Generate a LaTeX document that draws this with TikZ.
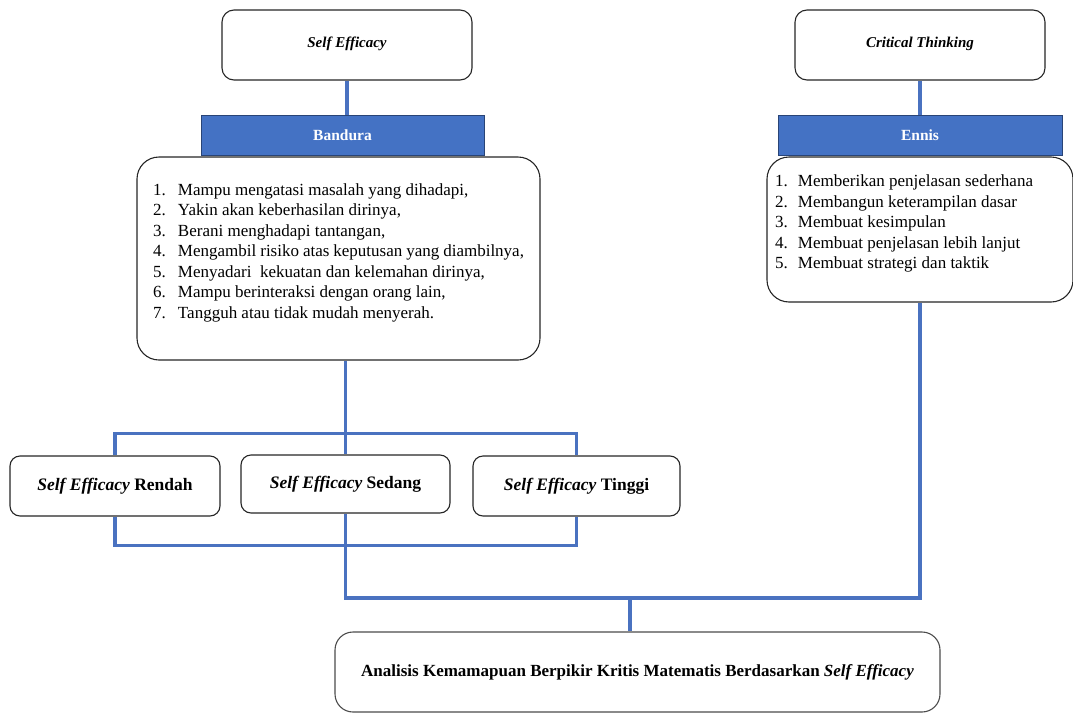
\documentclass[tikz,border=0pt]{standalone}
\usepackage{fontspec}
\setmainfont{Liberation Serif}
\definecolor{hblue}{HTML}{4472C4}
\definecolor{lblue}{HTML}{4A72C0}
\begin{document}
\begin{tikzpicture}[x=1pt,y=-1pt,
  rbox/.style={draw=black!85, line width=1.1pt, rounded corners=12pt, fill=white, inner sep=0pt},
  bigbox/.style={rbox, rounded corners=22pt},
  hdr/.style={fill=hblue, draw=hblue!60!black, line width=0.8pt, text=white, inner sep=0pt,
    font=\fontsize{15.5}{17}\selectfont\bfseries},
  ttl/.style={font=\fontsize{15}{17}\selectfont\bfseries\itshape, text height=12pt, text depth=8pt},
  lvl/.style={rbox, rounded corners=10pt, font=\fontsize{17.5}{20}\selectfont\bfseries},
  conn/.style={draw=lblue, line width=3.5pt},
  lst/.style={font=\fontsize{17}{20.5}\selectfont}
]
\useasboundingbox (0,0) rectangle (1073,715);

% top boxes
\node[rbox, ttl, minimum width=250pt, minimum height=70pt] (se) at (347,45) {Self Efficacy};
\node[rbox, ttl, minimum width=250pt, minimum height=70pt] (ct) at (920,45) {Critical Thinking};

% headers
\node[hdr, minimum width=283pt, minimum height=40pt] (band) at (342.5,135) {Bandura};
\node[hdr, minimum width=284pt, minimum height=40pt] (ennis) at (920,135) {Ennis};

% list boxes
\node[bigbox, lst, minimum width=403pt, minimum height=203pt] (blist) at (338.5,258.5)
{\begin{minipage}{371pt}
\makebox[25pt][l]{1.}Mampu mengatasi masalah yang dihadapi,\\
\makebox[25pt][l]{2.}Yakin akan keberhasilan dirinya,\\
\makebox[25pt][l]{3.}Berani menghadapi tantangan,\\
\makebox[25pt][l]{4.}Mengambil risiko atas keputusan yang diambilnya,\\
\makebox[25pt][l]{5.}Menyadari\ \ kekuatan dan kelemahan dirinya,\\
\makebox[25pt][l]{6.}Mampu berinteraksi dengan orang lain,\\
\makebox[25pt][l]{7.}Tangguh atau tidak mudah menyerah.\par\vspace{12pt}
\end{minipage}};

\node[bigbox, lst, minimum width=306pt, minimum height=145pt] (elist) at (920,229.5)
{\begin{minipage}{290pt}
\makebox[23pt][l]{1.}Memberikan penjelasan sederhana\\
\makebox[23pt][l]{2.}Membangun keterampilan dasar\\
\makebox[23pt][l]{3.}Membuat kesimpulan\\
\makebox[23pt][l]{4.}Membuat penjelasan lebih lanjut\\
\makebox[23pt][l]{5.}Membuat strategi dan taktik\par\vspace{12pt}
\end{minipage}};

% level boxes
\node[lvl, minimum width=210pt, minimum height=60pt] (rendah) at (115,486) {\textit{Self Efficacy} Rendah};
\node[lvl, minimum width=209pt, minimum height=58pt] (sedang) at (345.5,484) {\textit{Self Efficacy} Sedang};
\node[lvl, minimum width=207pt, minimum height=60pt] (tinggi) at (576.5,486) {\textit{Self Efficacy} Tinggi};

% final box
\node[rbox, rounded corners=18pt, draw=black!70, minimum width=605pt, minimum height=80pt,
  font=\fontsize{17}{20}\selectfont\bfseries] (final) at (637.5,672)
  {Analisis Kemamapuan Berpikir Kritis Matematis Berdasarkan \textit{Self Efficacy}};

% connectors
\coordinate (j) at (345.5,598);
\coordinate (jf) at (630,598);
\draw[conn] (se.south) -- (se.south |- band.north);
\draw[conn] (ct.south) -- (ennis.north);
\draw[conn] (sedang.north |- blist.south) -- (sedang.north);
\draw[conn] (rendah.north) -- ++(0,-22) -| (tinggi.north);
\draw[conn] (rendah.south) -- ++(0,29) -| (tinggi.south);
\draw[conn] (sedang.south) -- (j) -| (elist.south);
\draw[conn] (jf) -- (jf |- final.north);
\end{tikzpicture}
\end{document}
